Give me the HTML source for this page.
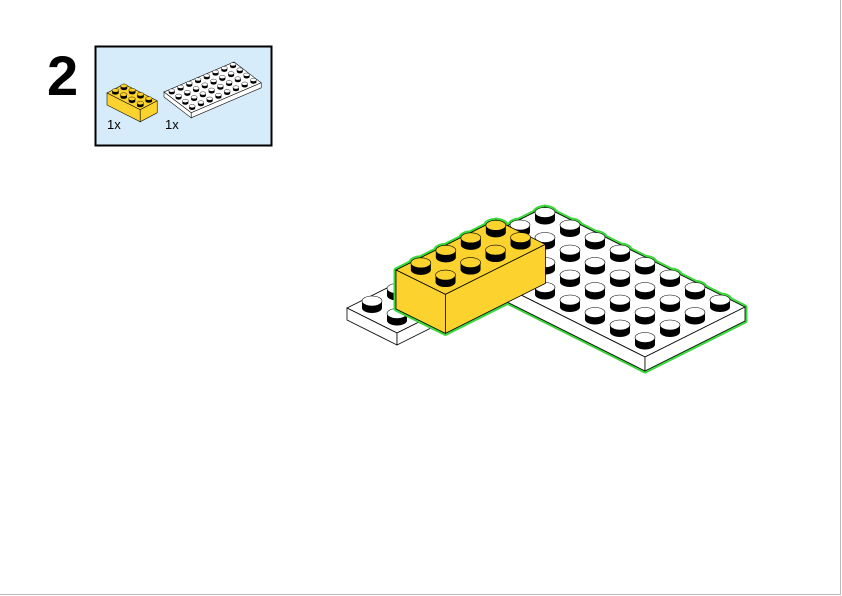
<!DOCTYPE html>
<html><head><meta charset="utf-8"><style>
html,body{margin:0;padding:0;background:#fff;}
body{width:842px;height:596px;overflow:hidden;position:relative;font-family:"Liberation Sans",sans-serif;}
</style></head><body>
<svg id="s" width="842" height="596" viewBox="0 0 842 596" xmlns="http://www.w3.org/2000/svg" style="position:absolute;left:0;top:0">
<line x1="840.5" y1="0" x2="840.5" y2="595" stroke="#bbb" stroke-width="1"/>
<line x1="0" y1="594.5" x2="841" y2="594.5" stroke="#bbb" stroke-width="1"/>
<text x="47" y="95" font-family="Liberation Sans" font-weight="bold" font-size="56" fill="#000">2</text>
<rect x="95.5" y="46.5" width="176" height="99" fill="#d6ecfb" stroke="#000" stroke-width="2"/>
<text x="107" y="129" font-size="13" fill="#000">1x</text>
<text x="165" y="129" font-size="13" fill="#000">1x</text>
<g id="g"></g>
</svg>
<script>
var g=document.getElementById('g'),NS='http://www.w3.org/2000/svg';
function el(t,a){var e=document.createElementNS(NS,t);for(var k in a)e.setAttribute(k,a[k]);g.appendChild(e);return e;}
function P(p){return p.map(function(q){return q[0].toFixed(1)+','+q[1].toFixed(1)}).join(' ');}
function add(p,v,k){return [p[0]+v[0]*k,p[1]+v[1]*k];}
var GREEN='#3ad83a';
function piece(o,outline){
 var L=o.L,A=o.A,B=o.B,na=o.na,nb=o.nb,h=o.h;
 var Bo=add(L,A,na),R=add(Bo,B,nb),T=add(L,B,nb);
 var d=function(p){return [p[0],p[1]+h];};
 var sw=o.sw||1;
 if(outline){
  el('polygon',{points:P([T,R,d(R),d(Bo),d(L),L]),fill:'none',stroke:GREEN,'stroke-width':o.gw,'stroke-linejoin':'round'});
 } else {
  el('polygon',{points:P([L,Bo,R,T]),fill:o.c,stroke:'#000','stroke-width':sw*0.8});
  el('polygon',{points:P([L,Bo,d(Bo),d(L)]),fill:o.c,stroke:'#000','stroke-width':sw*0.8});
  el('polygon',{points:P([Bo,R,d(R),d(Bo)]),fill:o.c2||o.c,stroke:'#000','stroke-width':sw*0.8});
 }
 for(var j=nb-1;j>=0;j--)for(var i=0;i<na;i++){
  var c=add(add(L,A,i+0.5),B,j+0.5);
  var rx=o.rx,ry=o.rx*o.ry,sh=o.sh;
  if(outline){
   el('ellipse',{cx:c[0],cy:c[1]-sh,rx:rx,ry:ry,fill:'none',stroke:GREEN,'stroke-width':o.gw});
  } else {
   el('path',{d:'M'+(c[0]-rx)+','+(c[1]-sh)+' L'+(c[0]-rx)+','+c[1]+' A'+rx+','+ry+' 0 0 0 '+(c[0]+rx)+','+c[1]+' L'+(c[0]+rx)+','+(c[1]-sh)+' Z',fill:'#000'});
   el('ellipse',{cx:c[0],cy:c[1]-sh,rx:rx,ry:ry,fill:o.c,stroke:'#000','stroke-width':sw*0.6});
  }
 }
}
var U=[25,12.5],V=[25,-12.5];
var old={L:[347,308],A:U,B:V,na:2,nb:8,h:12,c:'#fff',rx:10,ry:0.5,sh:7};
var big={L:[445,257],A:U,B:V,na:8,nb:4,h:14,c:'#fff',rx:10,ry:0.5,sh:7,gw:5};
var brick={L:[396,270],A:[24.7,12.2],B:V,na:2,nb:4,h:39,c:'#fcd22e',c2:'#fcd22e',rx:10,ry:0.5,sh:7,gw:5};
piece(old,false);
piece(big,true);piece(brick,true);
piece(big,false);piece(brick,false);
piece({L:[107,93],A:[8.3,4.2],B:[8.5,-4.5],na:4,nb:2,h:12,c:'#fcd22e',rx:3.3,ry:0.55,sh:2.5,sw:0.7},false);
piece({L:[164,92],A:[6.8,5.2],B:[8.75,-3.75],na:4,nb:8,h:5,c:'#fff',rx:3,ry:0.55,sh:2.2,sw:0.7},false);
</script>
</body></html>
